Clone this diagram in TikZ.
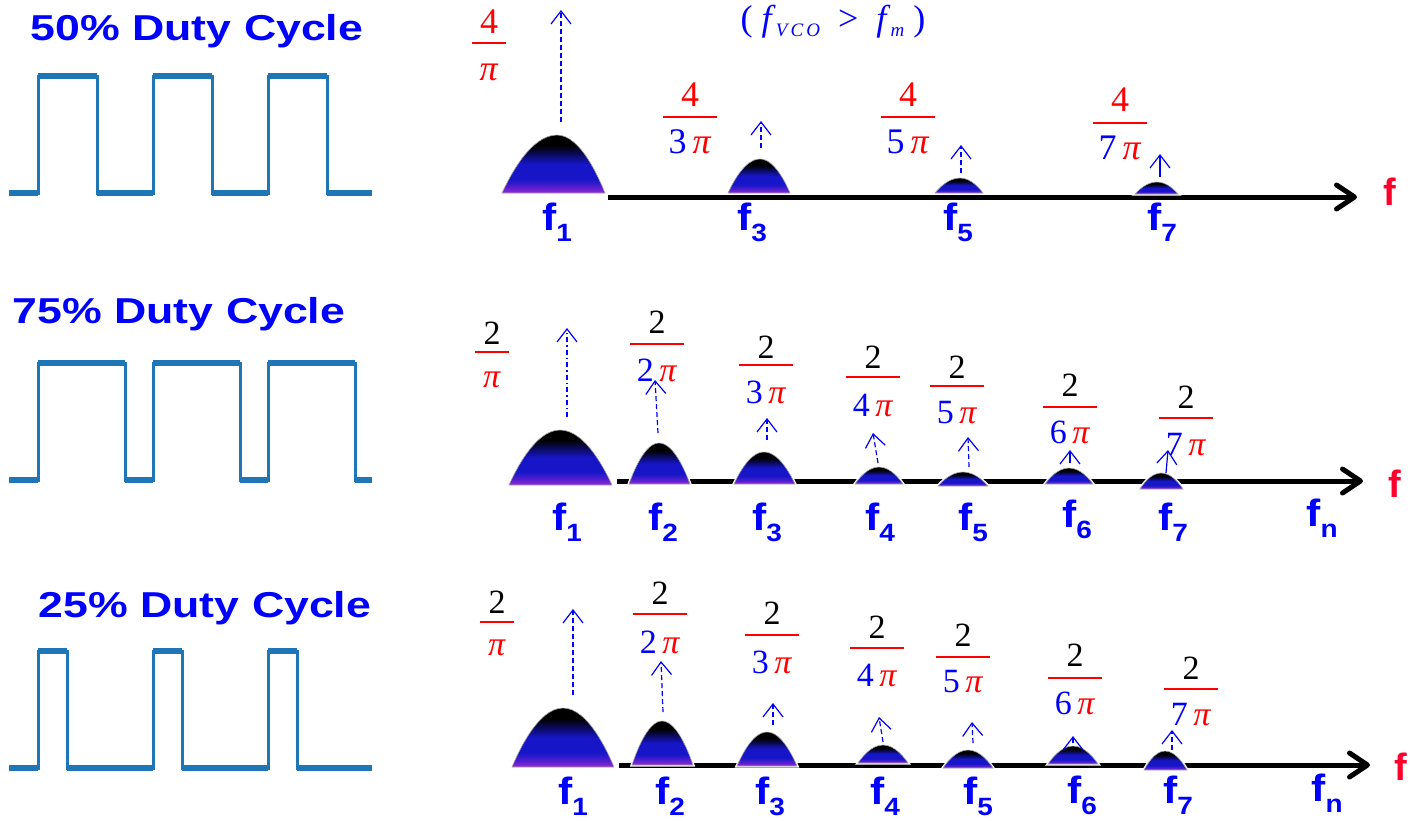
\documentclass[tikz,border=0pt]{standalone}
\usepackage{fontspec}
\setmainfont{Liberation Serif}
\setsansfont{Liberation Sans}
\usetikzlibrary{arrows.meta}
\definecolor{wavecol}{RGB}{30,118,182}
\definecolor{tblue}{RGB}{0,0,255}
\definecolor{fred}{RGB}{255,0,45}
\definecolor{hblue}{RGB}{22,22,200}
\definecolor{hpurp}{RGB}{150,40,215}
\pgfdeclareverticalshading{humpsh}{100bp}{color(0bp)=(hpurp); color(25bp)=(hpurp); color(30bp)=(hpurp!50!hblue); color(37bp)=(hblue); color(50bp)=(hblue); color(66bp)=(black); color(100bp)=(black)}
\newcommand\PI{\textcolor{red}{\textit{π}}}
\newcommand\Hump[5]{%
  \fill[white, draw=white, line width=3pt] (#1,#5) parabola bend (#3,#4) (#2,#5) -- cycle;
  \shade[shading=humpsh, draw=gray!70, line width=0.6pt] (#1,#5) parabola bend (#3,#4) (#2,#5) -- cycle;}
\newcommand\Frac[8]{%
  \node[fr] (#1n) at (#2,#3) {#7};
  \draw[frbar] (#2-#6,#4) -- (#2+#6,#4);
  \node[fr] (#1d) at (#2,#5) {#8};}
\newcommand\Wave[8]{%
  \draw[draw=wavecol, line width=3pt] (9,#1) -- (#3,#1) -- (#3,#2) -- (#4,#2) -- (#4,#1) -- (#5,#1) -- (#5,#2) -- (#6,#2) -- (#6,#1) -- (#7,#1) -- (#7,#2) -- (#8,#2) -- (#8,#1) -- (372,#1);
  \draw[draw=wavecol, line width=6pt] (9,#1) -- (#3,#1) (#3,#2) -- (#4,#2) (#4,#1) -- (#5,#1) (#5,#2) -- (#6,#2) (#6,#1) -- (#7,#1) (#7,#2) -- (#8,#2) (#8,#1) -- (372,#1);}
\newcommand\FL[4]{\node[flab] (#1) at (#2,#3) {\scalebox{1.12}[1]{f\raisebox{-11pt}{\fontsize{25}{25}\selectfont #4}}};}
\newcommand\SA[6]{%
  \coordinate (#1s) at (#2,#3); \coordinate (#1e) at (#4,#5);
  \draw[sarr, #6] (#1s) -- (#1e);}
\tikzset{
  title/.style={font=\sffamily\bfseries\fontsize{36}{40}\selectfont, text=tblue, inner sep=0pt, anchor=base},
  flab/.style={font=\sffamily\bfseries\fontsize{38}{40}\selectfont, text=tblue, inner sep=0pt, anchor=base},
  redf/.style={font=\sffamily\bfseries\fontsize{38}{40}\selectfont, text=fred, inner sep=0pt, anchor=base},
  fr/.style={text=tblue, inner sep=0pt},
  frbar/.style={draw=red, line width=1.5pt},
  sarr/.style={draw=tblue, line width=1.2pt, -{Straight Barb[length=13pt,width=20pt]}},
  dsh/.style={dash pattern=on 5pt off 3pt},
  dshdot/.style={dash pattern=on 5pt off 3pt on 1.5pt off 3pt},
  axisl/.style={draw=black, line width=5pt, -{Straight Barb[length=18pt,width=24pt,round]}},
}
\begin{document}
\begin{tikzpicture}[x=1pt,y=-1pt]
\useasboundingbox (0,0) rectangle (1410,820);
% ---------- waveforms and titles
\node[title] (t50) at (197,40) {\scalebox{1.24}[1]{50\% Duty Cycle}};
\node[title] (t75) at (179,323) {\scalebox{1.24}[1]{75\% Duty Cycle}};
\node[title] (t25) at (205,617) {\scalebox{1.24}[1]{25\% Duty Cycle}};
\Wave{193}{76}{38}{97}{153}{212}{268}{327}
\Wave{480}{363}{38}{125}{153}{240}{268}{355}
\Wave{768}{651}{38}{67}{153}{182}{268}{297}
% ---------- row 1
\coordinate (ax1s) at (608,197); \coordinate (ax1e) at (1357,197);
\draw[axisl] (ax1s) -- (ax1e);
\Hump{502}{605}{557}{135}{193}
\Hump{728}{790}{760}{159}{193}
\Hump{935}{983}{960}{178}{193}
\Hump{1135}{1178}{1157}{182}{194}
\SA{a11}{561}{122}{561}{10}{dsh}
\SA{a13}{761}{148}{761}{121}{dsh}
\SA{a15}{961}{173}{961}{145}{dsh}
\SA{a17}{1160}{177}{1160}{154}{}
\begin{scope}[fr/.append style={font=\fontsize{36}{40}\selectfont}]
\Frac{q11}{489}{22}{43}{72}{17}{\textcolor{red}{4}}{\PI}
\Frac{q13}{690}{95}{117}{142}{27}{\textcolor{red}{4}}{3\,\PI}
\Frac{q15}{908}{95}{117}{142}{27}{\textcolor{red}{4}}{5\,\PI}
\Frac{q17}{1120}{100}{123}{148}{27}{\textcolor{red}{4}}{7\,\PI}
\end{scope}
\node[text=tblue, inner sep=0pt, font=\fontsize{36}{40}\selectfont] (vco) at (833,22)
  {(\ \textit{f}\raisebox{-6pt}{\fontsize{19}{19}\selectfont\textit{V\,C\,O}}\ \ >\ \ \textit{f}\raisebox{-6pt}{\fontsize{19}{19}\selectfont\textit{m}}\ )};
\FL{l11}{557}{230}{1}
\FL{l13}{752}{230}{3}
\FL{l15}{958}{230}{5}
\FL{l17}{1162}{230}{7}
\node[redf] (rf1) at (1390,205) {f};
% ---------- row 2
\coordinate (ax2s) at (617,481); \coordinate (ax2e) at (1363,481);
\draw[axisl] (ax2s) -- (ax2e);
\Hump{509}{612}{560}{430}{485}
\Hump{629}{690}{659}{443}{484}
\Hump{734}{795}{764}{452}{484}
\Hump{855}{903}{879}{467}{484}
\Hump{938}{988}{963}{472}{486}
\Hump{1045}{1093}{1069}{468}{484}
\Hump{1140}{1183}{1161}{473}{489}
\SA{a21}{567}{417}{567}{328}{dshdot}
\SA{a22}{658}{433}{655}{380}{dsh}
\SA{a23}{767}{440}{767}{418}{dsh}
\SA{a24}{878}{463}{873}{433}{dsh}
\SA{a25}{969}{467}{968}{437}{dsh}
\SA{a26}{1070}{463}{1070}{450}{}
\SA{a27}{1166}{473}{1168}{450}{}
\begin{scope}[fr/.append style={font=\fontsize{34}{38}\selectfont}]
\Frac{q21}{492}{333}{352}{380}{17}{\textcolor{black}{2}}{\PI}
\Frac{q22}{657}{322}{344}{370}{27}{\textcolor{black}{2}}{2\,\PI}
\Frac{q23}{766}{347}{365}{392}{27}{\textcolor{black}{2}}{3\,\PI}
\Frac{q24}{873}{357}{377}{405}{27}{\textcolor{black}{2}}{4\,\PI}
\Frac{q25}{957}{367}{386}{413}{27}{\textcolor{black}{2}}{5\,\PI}
\Frac{q26}{1070}{385}{407}{432}{27}{\textcolor{black}{2}}{6\,\PI}
\Frac{q27}{1186}{397}{418}{445}{27}{\textcolor{black}{2}}{7\,\PI}
\end{scope}
\FL{l21}{567}{530}{1}
\FL{l22}{663}{530}{2}
\FL{l23}{767}{530}{3}
\FL{l24}{880}{530}{4}
\FL{l25}{973}{530}{5}
\FL{l26}{1077}{527}{6}
\FL{l27}{1173}{530}{7}
\FL{l2n}{1322}{526}{n}
\node[redf] (rf2) at (1395,497) {f};
% ---------- row 3
\coordinate (ax3s) at (619,765); \coordinate (ax3e) at (1370,765);
\draw[axisl] (ax3s) -- (ax3e);
\Hump{512}{614}{563}{708}{767}
\Hump{632}{693}{662}{721}{765}
\Hump{737}{797}{767}{732}{766}
\Hump{858}{908}{883}{745}{763}
\Hump{943}{993}{968}{750}{768}
\Hump{1048}{1098}{1073}{746}{764}
\Hump{1144}{1187}{1165}{751}{770}
\SA{a31}{573}{695}{573}{609}{dsh}
\SA{a32}{663}{712}{661}{661}{dsh}
\SA{a33}{773}{725}{773}{703}{dsh}
\SA{a34}{883}{742}{879}{717}{dsh}
\SA{a35}{973}{743}{972}{722}{dsh}
\SA{a36}{1073}{743}{1073}{736}{}
\SA{a37}{1172}{750}{1172}{730}{dsh}
\begin{scope}[fr/.append style={font=\fontsize{34}{38}\selectfont}]
\Frac{q31}{497}{602}{622}{648}{17}{\textcolor{black}{2}}{\PI}
\Frac{q32}{660}{593}{614}{642}{27}{\textcolor{black}{2}}{2\,\PI}
\Frac{q33}{772}{613}{635}{662}{27}{\textcolor{black}{2}}{3\,\PI}
\Frac{q34}{877}{627}{648}{675}{27}{\textcolor{black}{2}}{4\,\PI}
\Frac{q35}{963}{635}{657}{682}{27}{\textcolor{black}{2}}{5\,\PI}
\Frac{q36}{1075}{655}{678}{703}{27}{\textcolor{black}{2}}{6\,\PI}
\Frac{q37}{1191}{668}{689}{715}{27}{\textcolor{black}{2}}{7\,\PI}
\end{scope}
\FL{l31}{573}{804}{1}
\FL{l32}{670}{804}{2}
\FL{l33}{770}{804}{3}
\FL{l34}{885}{804}{4}
\FL{l35}{978}{804}{5}
\FL{l36}{1082}{803}{6}
\FL{l37}{1178}{803}{7}
\FL{l3n}{1327}{801}{n}
\node[redf] (rf3) at (1401,780) {f};
\end{tikzpicture}
\end{document}
